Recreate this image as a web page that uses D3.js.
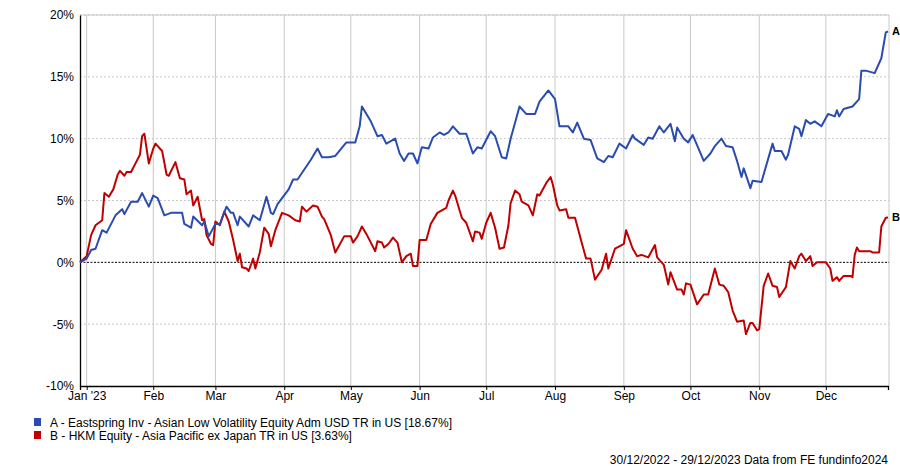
<!DOCTYPE html>
<html><head><meta charset="utf-8">
<script src="https://cdn.jsdelivr.net/npm/d3@7"></script>
<style>body{margin:0;background:#fff}svg{font-family:"Liberation Sans",Arial,sans-serif}</style>
</head><body><svg id="c" width="900" height="467"></svg>
<script>
const seriesAPoints = [
["2022-12-30",0],["2023-01-02",0.3],["2023-01-04",1.0],["2023-01-06",1.1],["2023-01-09",2.6],["2023-01-11",2.4],["2023-01-15",3.8],["2023-01-18",4.3],["2023-01-19",3.9],["2023-01-22",4.9],["2023-01-25",4.9],["2023-01-27",5.6],["2023-01-30",4.5],["2023-02-01",5.4],["2023-02-03",5.2],["2023-02-06",3.8],["2023-02-09",4.0],["2023-02-14",4.0],["2023-02-15",3.1],["2023-02-18",2.8],["2023-02-19",3.7],["2023-02-23",3.0],["2023-02-24",3.3],["2023-02-26",2.1],["2023-03-01",3.1],["2023-03-03",3.1],["2023-03-06",4.5],["2023-03-08",4.0],["2023-03-09",4.0],["2023-03-11",3.0],["2023-03-12",3.7],["2023-03-16",2.9],["2023-03-18",3.8],["2023-03-21",3.4],["2023-03-24",5.3],["2023-03-26",4.0],["2023-03-27",3.9],["2023-03-29",4.7],["2023-04-03",5.9],["2023-04-05",6.7],["2023-04-07",6.7],["2023-04-13",8.3],["2023-04-16",9.2],["2023-04-18",8.5],["2023-04-21",8.5],["2023-04-24",8.6],["2023-04-29",9.7],["2023-05-03",9.7],["2023-05-05",11.0],["2023-05-06",12.6],["2023-05-10",11.4],["2023-05-13",10.2],["2023-05-15",10.3],["2023-05-17",9.6],["2023-05-21",10.0],["2023-05-23",8.8],["2023-05-25",8.2],["2023-05-27",8.8],["2023-05-29",8.8],["2023-05-31",8.0],["2023-06-02",9.3],["2023-06-05",9.2],["2023-06-07",10.1],["2023-06-10",10.5],["2023-06-12",10.3],["2023-06-14",10.5],["2023-06-16",11.0],["2023-06-19",10.4],["2023-06-22",10.4],["2023-06-25",8.8],["2023-06-27",9.3],["2023-06-29",9.2],["2023-07-03",10.6],["2023-07-05",10.2],["2023-07-08",8.5],["2023-07-10",8.4],["2023-07-12",10.0],["2023-07-16",12.6],["2023-07-19",12.0],["2023-07-23",12.0],["2023-07-25",13.0],["2023-07-29",13.9],["2023-08-01",13.2],["2023-08-03",11.0],["2023-08-07",11.0],["2023-08-09",10.5],["2023-08-11",11.3],["2023-08-14",10.0],["2023-08-17",9.9],["2023-08-20",8.4],["2023-08-23",8.1],["2023-08-25",8.6],["2023-08-27",8.5],["2023-08-30",9.6],["2023-09-02",9.2],["2023-09-05",10.3],["2023-09-06",10.0],["2023-09-10",9.5],["2023-09-12",10.1],["2023-09-14",10.0],["2023-09-17",11.0],["2023-09-19",10.5],["2023-09-22",11.2],["2023-09-24",9.8],["2023-09-25",10.9],["2023-09-28",10.0],["2023-09-30",9.7],["2023-10-02",10.3],["2023-10-07",8.2],["2023-10-10",8.8],["2023-10-12",9.4],["2023-10-15",10.0],["2023-10-17",9.4],["2023-10-20",9.3],["2023-10-22",8.2],["2023-10-24",6.9],["2023-10-25",7.6],["2023-10-28",6.0],["2023-10-29",6.6],["2023-11-02",6.5],["2023-11-07",9.6],["2023-11-08",9.0],["2023-11-11",9.0],["2023-11-13",8.3],["2023-11-14",8.7],["2023-11-17",11.0],["2023-11-19",10.8],["2023-11-20",10.2],["2023-11-22",11.5],["2023-11-24",11.2],["2023-11-26",11.4],["2023-11-29",11.0],["2023-12-02",12.0],["2023-12-05",11.8],["2023-12-06",12.3],["2023-12-07",11.8],["2023-12-09",12.4],["2023-12-13",12.6],["2023-12-16",13.2],["2023-12-17",15.5],["2023-12-19",15.5],["2023-12-23",15.3],["2023-12-26",16.5],["2023-12-28",18.6],["2023-12-29",18.67]];
const seriesBPoints = [
["2022-12-30",0],["2023-01-02",0.5],["2023-01-04",2.2],["2023-01-06",3.0],["2023-01-09",3.4],["2023-01-10",5.6],["2023-01-12",5.3],["2023-01-14",5.9],["2023-01-16",7.1],["2023-01-17",7.4],["2023-01-19",7.0],["2023-01-20",7.3],["2023-01-22",7.3],["2023-01-24",8.0],["2023-01-26",8.7],["2023-01-27",10.2],["2023-01-28",10.4],["2023-01-30",8.0],["2023-02-01",9.2],["2023-02-02",9.6],["2023-02-05",9.0],["2023-02-07",7.1],["2023-02-08",7.0],["2023-02-11",8.1],["2023-02-13",6.8],["2023-02-15",6.7],["2023-02-16",5.5],["2023-02-18",5.8],["2023-02-19",4.6],["2023-02-21",5.3],["2023-02-23",3.4],["2023-02-24",3.5],["2023-02-25",2.2],["2023-02-27",1.5],["2023-02-28",1.4],["2023-03-01",3.3],["2023-03-03",3.0],["2023-03-05",4.1],["2023-03-07",3.3],["2023-03-09",1.8],["2023-03-11",0.1],["2023-03-12",0.7],["2023-03-13",-0.4],["2023-03-15",-0.5],["2023-03-16",-0.7],["2023-03-18",0.3],["2023-03-19",-0.5],["2023-03-21",0.8],["2023-03-23",2.8],["2023-03-25",2.3],["2023-03-26",1.3],["2023-03-28",2.6],["2023-03-31",4.0],["2023-04-03",3.8],["2023-04-06",3.4],["2023-04-08",3.3],["2023-04-09",4.5],["2023-04-11",4.1],["2023-04-14",4.6],["2023-04-16",4.5],["2023-04-18",3.7],["2023-04-19",3.5],["2023-04-22",2.2],["2023-04-24",0.8],["2023-04-28",2.1],["2023-05-01",2.1],["2023-05-02",1.6],["2023-05-04",2.1],["2023-05-06",2.9],["2023-05-08",2.3],["2023-05-12",0.9],["2023-05-13",1.7],["2023-05-15",1.6],["2023-05-16",1.2],["2023-05-18",1.5],["2023-05-20",2.0],["2023-05-22",1.6],["2023-05-24",0.0],["2023-05-26",0.5],["2023-05-28",0.7],["2023-05-29",-0.3],["2023-05-31",-0.3],["2023-06-01",1.8],["2023-06-04",1.8],["2023-06-06",3.1],["2023-06-09",4.0],["2023-06-13",4.4],["2023-06-14",5.0],["2023-06-16",5.8],["2023-06-17",5.4],["2023-06-20",3.6],["2023-06-22",3.2],["2023-06-25",1.7],["2023-06-26",2.5],["2023-06-28",2.4],["2023-06-29",1.9],["2023-07-01",3.2],["2023-07-03",4.0],["2023-07-05",2.8],["2023-07-07",1.1],["2023-07-09",1.2],["2023-07-11",3.0],["2023-07-12",4.8],["2023-07-14",5.8],["2023-07-16",5.5],["2023-07-17",4.9],["2023-07-20",4.6],["2023-07-22",3.8],["2023-07-24",5.5],["2023-07-25",5.4],["2023-07-28",6.4],["2023-07-30",6.9],["2023-07-31",6.3],["2023-08-02",4.6],["2023-08-03",4.2],["2023-08-06",4.3],["2023-08-07",3.6],["2023-08-08",3.6],["2023-08-10",3.6],["2023-08-13",1.6],["2023-08-15",0.3],["2023-08-17",0.3],["2023-08-19",-1.4],["2023-08-22",-0.6],["2023-08-24",0.7],["2023-08-25",-0.5],["2023-08-28",1.1],["2023-08-30",1.3],["2023-09-01",1.5],["2023-09-02",2.6],["2023-09-05",1.1],["2023-09-07",0.5],["2023-09-09",0.6],["2023-09-12",0.4],["2023-09-15",1.4],["2023-09-16",0.4],["2023-09-19",-0.2],["2023-09-21",-1.8],["2023-09-22",-0.8],["2023-09-25",-2.2],["2023-09-27",-2.2],["2023-09-28",-2.6],["2023-09-29",-1.7],["2023-10-01",-1.8],["2023-10-04",-3.4],["2023-10-07",-2.6],["2023-10-09",-2.6],["2023-10-12",-0.5],["2023-10-14",-1.8],["2023-10-16",-1.9],["2023-10-18",-2.4],["2023-10-20",-3.9],["2023-10-22",-4.8],["2023-10-25",-4.7],["2023-10-26",-5.8],["2023-10-28",-4.9],["2023-10-29",-4.9],["2023-10-31",-5.5],["2023-11-01",-5.4],["2023-11-03",-1.9],["2023-11-05",-0.9],["2023-11-07",-1.9],["2023-11-09",-2.0],["2023-11-10",-2.8],["2023-11-13",-2.0],["2023-11-15",0.1],["2023-11-17",-0.5],["2023-11-19",0.5],["2023-11-20",0.7],["2023-11-22",0.1],["2023-11-24",0.5],["2023-11-25",-0.3],["2023-11-27",0.0],["2023-12-01",0.0],["2023-12-03",-0.5],["2023-12-04",-1.5],["2023-12-06",-1.2],["2023-12-07",-1.5],["2023-12-09",-1.1],["2023-12-12",-1.1],["2023-12-13",-1.2],["2023-12-14",0.6],["2023-12-15",1.2],["2023-12-16",0.9],["2023-12-21",0.9],["2023-12-22",0.8],["2023-12-25",0.8],["2023-12-26",2.9],["2023-12-28",3.6],["2023-12-29",3.63]];
const yTicks = [-10,-5,0,5,10,15,20];
const monthTicks = ["2023-01-02","2023-02-01","2023-03-01","2023-04-01","2023-05-01","2023-06-01","2023-07-01","2023-08-01","2023-09-01","2023-10-01","2023-11-01","2023-12-01"];
const monthLabels = ["Jan '23","Feb","Mar","Apr","May","Jun","Jul","Aug","Sep","Oct","Nov","Dec"];
const legendLabels = ["A - Eastspring Inv - Asian Low Volatility Equity Adm USD TR in US [18.67%]","B - HKM Equity - Asia Pacific ex Japan TR in US [3.63%]"];
const colors = ["#2a4bb0","#c00000"];
const footer = "30/12/2022 - 29/12/2023 Data from FE fundinfo2024";

const p = d3.timeParse("%Y-%m-%d");
const svg = d3.select("#c");
const L=80,R=889,T=15,B=386;
const x = d3.scaleTime().domain([p("2022-12-30"),p("2023-12-29")]).range([L,888]);
const y = d3.scaleLinear().domain([-10,20]).range([B,T]);

svg.append("g").selectAll("line").data(yTicks.filter(v=>v!==0&&v!==-10)).join("line")
 .attr("x1",L).attr("x2",R).attr("y1",d=>y(d)).attr("y2",d=>y(d))
 .attr("stroke","#c8c8c8").attr("stroke-dasharray","2,2");
svg.append("line").attr("x1",L).attr("x2",R).attr("y1",T).attr("y2",T).attr("stroke","#c8c8c8");
svg.append("line").attr("x1",R).attr("x2",R).attr("y1",T).attr("y2",B).attr("stroke","#c8c8c8");
svg.append("g").selectAll("line").data(monthTicks).join("line")
 .attr("x1",d=>x(p(d))).attr("x2",d=>x(p(d))).attr("y1",T).attr("y2",B)
 .attr("stroke","#c8c8c8");
svg.append("line").attr("x1",L).attr("x2",R).attr("y1",y(0)).attr("y2",y(0))
 .attr("stroke","#000").attr("stroke-dasharray","2,1.5");

const ya = svg.append("g").attr("transform",`translate(${L},0)`)
 .call(d3.axisLeft(y).tickValues(yTicks).tickFormat(d=>d+"%").tickSize(0).tickPadding(6));
ya.select(".domain").attr("stroke","#000").attr("stroke-width",1.3);
ya.selectAll("text").attr("font-size",12).attr("fill","#000");
const xa = svg.append("g").attr("transform",`translate(0,${B})`)
 .call(d3.axisBottom(x).tickValues(monthTicks.map(p)).tickFormat((d,i)=>monthLabels[i]).tickSize(4).tickPadding(1));
xa.select(".domain").attr("stroke","#000").attr("stroke-width",1.3);
xa.selectAll("line").attr("stroke","#000");
xa.selectAll("text").attr("font-size",12).attr("fill","#000");

const line = d3.line().x(d=>x(p(d[0]))).y(d=>y(d[1]));
[seriesBPoints,seriesAPoints].forEach((s,i)=>{
  svg.append("path").attr("d",line(s)).attr("fill","none")
   .attr("stroke",colors[1-i]).attr("stroke-width",2).attr("stroke-linejoin","round");
});
const lastA=seriesAPoints[seriesAPoints.length-1], lastB=seriesBPoints[seriesBPoints.length-1];
svg.append("text").attr("x",892).attr("y",y(lastA[1])+4).text("A").attr("font-size",11).attr("font-weight","bold");
svg.append("text").attr("x",892).attr("y",y(lastB[1])+4).text("B").attr("font-size",11).attr("font-weight","bold");

legendLabels.forEach((t,i)=>{
  svg.append("rect").attr("x",34).attr("y",418+i*13).attr("width",7).attr("height",8).attr("fill",colors[i]);
  svg.append("text").attr("x",50).attr("y",427+i*13).text(t).attr("font-size",12).attr("fill","#000");
});
svg.append("text").attr("x",888).attr("y",464).attr("text-anchor","end").text(footer).attr("font-size",12);
</script></body></html>
